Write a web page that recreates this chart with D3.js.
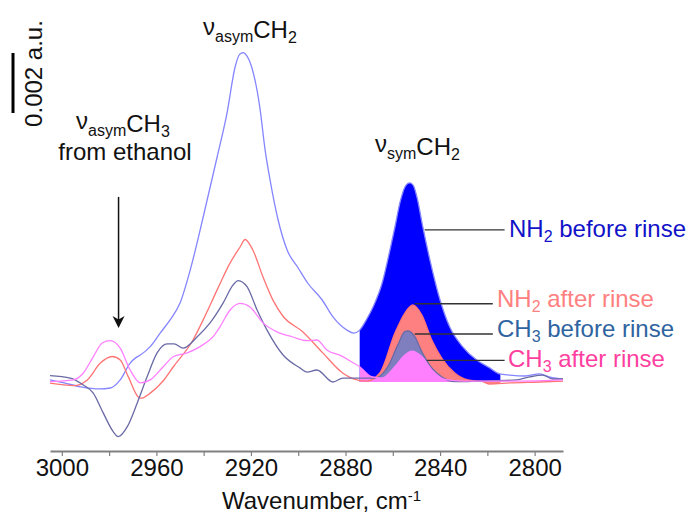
<!DOCTYPE html>
<html>
<head>
<meta charset="utf-8">
<script src="https://cdn.jsdelivr.net/npm/d3@7"></script>
<style>
  html, body { margin: 0; padding: 0; background: #ffffff; }
  svg { display: block; font-family: "Liberation Sans", Arial, Helvetica, sans-serif; }
</style>
</head>
<body>
<svg id="chart" width="694" height="515"></svg>
<script>
// Difference IR spectra in the C–H stretching region.
// Absorbance values are in units of 10^-3 a.u.

// NH2-terminated surface, before rinse
const nh2BeforeWn  = [3005, 2999, 2992, 2984, 2979.5, 2975.3, 2971.1, 2968.5, 2966.8, 2962.6, 2958.4, 2954.2, 2950, 2945.7, 2940.2, 2934.3, 2930.1, 2926.7, 2924.8, 2923.3, 2921.8, 2919.7, 2916.2, 2914, 2911.9, 2908.5, 2904.7, 2900, 2896, 2890, 2885.3, 2879.4, 2876.5, 2874, 2871, 2868.3, 2864.5, 2861.2, 2859, 2857, 2854.3, 2852.8, 2851.3, 2849.8, 2847.3, 2844.3, 2840.1, 2835.9, 2830.4, 2824.5, 2819, 2814.8, 2810.6, 2804, 2798, 2793, 2788];
const nh2BeforeAbs = [0.07, -0.03, -0.16, -0.23, -0.2, 0.07, 0.63, 0.82, 0.9, 1.18, 1.63, 2.07, 2.63, 3.73, 5.5, 7.5, 8.97, 10.5, 10.92, 10.98, 10.88, 10.5, 9.13, 7.73, 6.73, 5.4, 4.4, 3.8, 3.3, 2.75, 2.17, 1.73, 1.63, 1.73, 2.1, 2.51, 3.3, 4.4, 5.2, 5.97, 6.57, 6.64, 6.55, 6.17, 5.17, 4.07, 2.76, 1.83, 1.17, 0.73, 0.47, 0.27, 0.23, 0.2, 0.27, 0.15, 0.1];

// NH2-terminated surface, after rinse
const nh2AfterWn  = [3005, 2995, 2989.2, 2983.7, 2978.7, 2975.3, 2971.9, 2967.7, 2966.5, 2962.6, 2957, 2952.9, 2944.5, 2940.2, 2934.3, 2928.8, 2924.6, 2922.5, 2919.2, 2914.9, 2910.7, 2906.5, 2898, 2889.6, 2881.2, 2875.2, 2871, 2865.5, 2859.1, 2854.9, 2851.5, 2847.7, 2843.5, 2839.3, 2833.8, 2828.2, 2821.9, 2819, 2810.6, 2798, 2788];
const nh2AfterAbs = [-0.04, -0.12, 0.07, 0.63, 0.85, 0.73, 0.18, -0.5, -0.54, -0.37, 0.05, 0.5, 1.4, 2.07, 3.07, 3.97, 4.5, 4.75, 4.4, 3.5, 2.73, 2.2, 1.67, 0.97, 0.3, 0.07, 0.03, 0.3, 1.63, 2.3, 2.57, 2.23, 1.4, 0.8, 0.3, 0.07, 0.01, -0.07, -0.03, 0, 0.03];

// CH3-terminated surface, before rinse
const ch3BeforeWn  = [3005, 2996.4, 2990.9, 2986.7, 2982.5, 2978.2, 2976.1, 2972.3, 2968.1, 2963.9, 2959.7, 2955.4, 2952.5, 2948.7, 2942.8, 2937.3, 2931.8, 2927.6, 2925.4, 2921.6, 2917.4, 2913.2, 2906.4, 2899.3, 2896.3, 2892.1, 2885.3, 2881.1, 2874, 2867.6, 2862.1, 2857.9, 2854.9, 2853.6, 2850.7, 2847.7, 2843.5, 2839.3, 2833.8, 2823.2, 2807.6, 2802.1, 2796.6, 2792.4, 2788];
const ch3BeforeAbs = [0.21, 0.13, -0.1, -0.37, -1.03, -1.66, -1.82, -1.49, -0.7, 0.18, 0.97, 1.27, 1.27, 1.13, 1.5, 1.97, 2.63, 3.23, 3.38, 3.17, 2.4, 1.73, 0.9, 0.47, 0.33, 0.4, 0.0, 0.13, 0.13, 0.13, 0.51, 1.23, 1.68, 1.7, 1.51, 1.01, 0.47, 0.17, 0.01, 0.03, 0.07, 0.17, 0.23, 0.1, 0.1];

// CH3-terminated surface, after rinse
const ch3AfterWn  = [3005, 2995.1, 2990.9, 2986.7, 2982.9, 2979.5, 2975.3, 2971.1, 2966.8, 2962.6, 2957.1, 2952.9, 2947, 2941.5, 2936, 2933.1, 2928.8, 2924.6, 2920.4, 2914.9, 2909, 2902.3, 2896.3, 2892.1, 2887.9, 2882, 2877, 2874, 2869, 2864.6, 2859.1, 2854.9, 2851.9, 2847.7, 2843.5, 2838, 2830, 2821.9, 2806.3, 2788];
const ch3AfterAbs = [0.01, 0.07, 0.3, 0.84, 1.3, 1.38, 1.13, 0.4, -0.03, 0.07, 0.51, 0.84, 0.97, 1.18, 1.51, 1.84, 2.4, 2.62, 2.5, 1.97, 1.67, 1.5, 1.38, 1.4, 1.07, 0.88, 0.65, 0.51, 0.18, 0.13, 0.51, 0.9, 1.03, 0.84, 0.4, 0.09, 0.03, 0.03, 0.03, 0.07];

// Axis ticks and labels
const tickValues = [3000, 2980, 2960, 2940, 2920, 2900, 2880, 2860, 2840, 2820, 2800];
const tickLabels = ["3000", "", "2960", "", "2920", "", "2880", "", "2840", "", "2800"];

// Integrated band of the symmetric CH2 stretch
const bandRange = [2874, 2814.5];

// Scale bar height (10^-3 a.u.)
const scaleBarValue = 2;

// Callout names, their leader start/end (wavenumber) and height (10^-3 a.u.)
const seriesNames   = [["NH", "2", " before rinse"], ["NH", "2", " after rinse"], ["CH", "3", " before rinse"], ["CH", "3", " after rinse"]];
const calloutFrom   = [2846.5, 2850.7, 2850.7, 2845.6];
const calloutTo     = [2812.7, 2817.7, 2817.7, 2812.7];
const calloutLevel  = [5.07, 2.61, 1.6, 0.72];

const lineColors  = ["#8585ff", "#ff7474", "#6a6aa6", "#ff80ff"];
const fillColors  = ["#0000ff", "#ff8080", "#7f7fbf", "#ff80ff"];
const labelColors = ["#1212c8", "#ff8080", "#2f64a0", "#ff3fa0"];

const series = [
  { wn: nh2BeforeWn, abs: nh2BeforeAbs },
  { wn: nh2AfterWn,  abs: nh2AfterAbs },
  { wn: ch3BeforeWn, abs: ch3BeforeAbs },
  { wn: ch3AfterWn,  abs: ch3AfterAbs }
].map((s, i) => ({
  name: seriesNames[i],
  points: s.wn.map((w, k) => [w, s.abs[k]]),
  line: lineColors[i], fill: fillColors[i], label: labelColors[i],
  from: calloutFrom[i], to: calloutTo[i], level: calloutLevel[i]
}));

const svg = d3.select("#chart");

const x = d3.scaleLinear().domain([3005, 2788]).range([50, 563]);
const y = d3.scaleLinear().domain([0, 2]).range([382, 322]);

const curve = d3.curveMonotoneX;
const line = d3.line().x(d => x(d[0])).y(d => y(d[1])).curve(curve);
const area = d3.area().x(d => x(d[0])).y0(y(0)).y1(d => y(d[1])).curve(curve);

// Clip for the shaded band
svg.append("defs").append("clipPath").attr("id", "band")
  .append("rect")
  .attr("x", x(bandRange[0])).attr("y", 0)
  .attr("width", x(bandRange[1]) - x(bandRange[0])).attr("height", 515);

// Filled band areas, largest first
svg.append("g").attr("clip-path", "url(#band)")
  .selectAll("path").data(series).join("path")
  .attr("d", d => area(d.points))
  .attr("fill", d => d.fill);

// Spectra
svg.append("g").selectAll("path").data(series).join("path")
  .attr("d", d => line(d.points))
  .attr("fill", "none")
  .attr("stroke", d => d.line)
  .attr("stroke-width", 1.3)
  .attr("stroke-linejoin", "round");

// X axis
const axis = d3.axisBottom(x)
  .tickValues(tickValues)
  .tickFormat((d, i) => tickLabels[i])
  .tickSize(5)
  .tickSizeOuter(0)
  .tickPadding(3);

const gx = svg.append("g").attr("transform", "translate(0,451)").call(axis);
gx.select(".domain").attr("stroke", "#808080").attr("stroke-width", 2);
gx.selectAll(".tick line").attr("stroke", "#808080").attr("stroke-width", 1.2);
gx.selectAll(".tick text")
  .attr("font-size", 24)
  .attr("fill", "#111")
  .attr("font-family", "'Liberation Sans', Arial, sans-serif");

// Axis title
const title = svg.append("text")
  .attr("x", 222).attr("y", 509)
  .attr("font-size", 24).attr("fill", "#111");
title.append("tspan").text("Wavenumber, cm");
title.append("tspan").attr("font-size", 15).attr("dy", -8).text("-1");

// Scale bar
svg.append("line")
  .attr("x1", 13).attr("x2", 13)
  .attr("y1", 113).attr("y2", 113 - (y(0) - y(scaleBarValue)))
  .attr("stroke", "#000").attr("stroke-width", 3);

svg.append("text")
  .attr("transform", "translate(41.5,73.5) rotate(-90)")
  .attr("text-anchor", "middle")
  .attr("font-size", 24).attr("fill", "#111")
  .text(d3.format(".3f")(scaleBarValue / 1000) + " a.u.");

// Band annotations (ν with subscript)
function nuLabel(x0, y0, sub, group, groupSub) {
  const t = svg.append("text").attr("x", x0).attr("y", y0)
    .attr("font-size", 24).attr("fill", "#111");
  t.append("tspan").attr("dy", -3).text("ν");
  t.append("tspan").attr("font-size", 16).attr("dy", 7).text(sub);
  t.append("tspan").attr("dy", -4).text(group);
  t.append("tspan").attr("font-size", 16).attr("dy", 5).text(groupSub);
  return t;
}
nuLabel(203, 38, "asym", "CH", "2");
nuLabel(76, 131.5, "asym", "CH", "3");
nuLabel(375, 155, "sym", "CH", "2");

svg.append("text")
  .attr("x", 125).attr("y", 160)
  .attr("text-anchor", "middle")
  .attr("font-size", 24).attr("fill", "#111")
  .text("from ethanol");

// Arrow pointing to the ethanol CH3 band
const arrowWn = 2976;
const arrowTop = 6.17, arrowTip = 1.8;
svg.append("line")
  .attr("x1", x(arrowWn)).attr("x2", x(arrowWn))
  .attr("y1", y(arrowTop)).attr("y2", y(arrowTip) - 6)
  .attr("stroke", "#111").attr("stroke-width", 1.5);
svg.append("path")
  .attr("transform", `translate(${x(arrowWn)},${y(arrowTip)})`)
  .attr("d", "M0,0 L-6,-12 L0,-8.5 L6,-12 Z")
  .attr("fill", "#111");

// Callout leaders and series labels
const labelBaseline = [236.7, 306.7, 336.7, 366.7];
const labelStart = [509, 497, 497, 508];

svg.append("g").selectAll("line").data(series).join("line")
  .attr("x1", d => x(d.from)).attr("x2", d => x(d.to))
  .attr("y1", d => y(d.level)).attr("y2", d => y(d.level))
  .attr("stroke", "#333").attr("stroke-width", 1.4);

series.forEach((s, i) => {
  const t = svg.append("text")
    .attr("x", labelStart[i]).attr("y", labelBaseline[i])
    .attr("font-size", 24).attr("fill", s.label);
  t.append("tspan").text(s.name[0]);
  t.append("tspan").attr("font-size", 16).attr("dy", 5).text(s.name[1]);
  t.append("tspan").attr("dy", -5).text(s.name[2]);
});
</script>
</body>
</html>
